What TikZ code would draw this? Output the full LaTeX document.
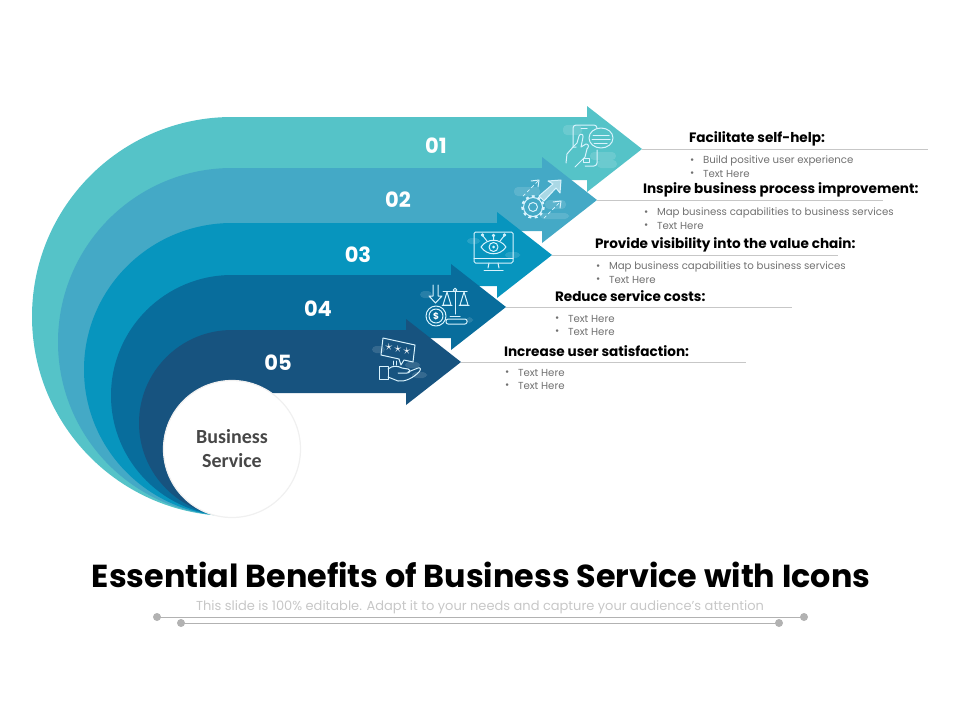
\documentclass[tikz,border=0pt]{standalone}
\usepackage{fontspec}
\setmainfont{Poppins}
\newfontfamily\labelfont{Carlito}
\definecolor{teal1}{HTML}{55C3C8}
\definecolor{teal2}{HTML}{44A9C6}
\definecolor{teal3}{HTML}{0795BE}
\definecolor{teal4}{HTML}{086D9C}
\definecolor{teal5}{HTML}{17537F}
\definecolor{bodygray}{HTML}{707070}
\begin{document}
\begin{tikzpicture}[
  x = 1pt, y = -1pt,
  every node/.style = {inner sep = 0pt, outer sep = 0pt},
  leader/.style = {draw = black!22, line width = 0.7pt},
  heading/.style = {anchor = west, font = \fontsize{13.6}{15}\selectfont\bfseries, text = black},
  bullet/.style = {anchor = west, font = \fontsize{10.2}{11}\selectfont, text = bodygray},
  number/.style = {font = \fontsize{21}{22}\selectfont\bfseries, text = white},
  icon/.style = {draw = white!85!cyan, line width = 1pt, line join = round, line cap = round},
  blob/.style = {fill = white, fill opacity = 0.13, rounded corners = 4pt},
  ]
  \useasboundingbox (0,0) rectangle (960,720);

  % arrows, back to front
  \foreach \n/\col/\tipx/\tipy/\rx in {1/teal1/642/149/200, 2/teal2/597/200/174,
                                       3/teal3/552/255/148, 4/teal4/506/307/121,
                                       5/teal5/461/362/93} {
    \pgfmathsetmacro{\top}{\tipy-32}
    \pgfmathsetmacro{\low}{\tipy+31}
    \pgfmathsetmacro{\ry}{(516-\top)/2}
    \pgfmathsetmacro{\back}{\tipx-55}
    \fill [\col] (232,516) arc [start angle = 90, end angle = 270, x radius = \rx, y radius = \ry]
      -- (\back,\top) -- (\back,\tipy-43) -- (\tipx,\tipy) -- (\back,\tipy+43) -- (\back,\low)
      -- (232,\low) -- cycle;
    \coordinate (tip\n) at (\tipx,\tipy);
  }

  \node [circle, minimum size = 137pt, fill = white, draw = black!6, line width = 1.2pt] (core) at (232,449) {};
  \node [font = \labelfont\fontsize{20}{24}\selectfont\bfseries, text = black!72, align = center] (corelabel) at (232,449) {Business\\Service};

  \node [number] (num1) at (436,146) {01};
  \node [number] (num2) at (398,200) {02};
  \node [number] (num3) at (358,255) {03};
  \node [number] (num4) at (318,309) {04};
  \node [number] (num5) at (278,363) {05};

  % leaders and texts
  \coordinate (end1) at (928,149);
  \coordinate (end2) at (883,200);
  \coordinate (end3) at (838,255);
  \coordinate (end4) at (792,307);
  \coordinate (end5) at (746,362);
  \foreach \n in {1,...,5} \draw [leader] (tip\n) -- (end\n);

  \node [heading] (head1) at (689,139) {Facilitate self-help:};
  \node [heading] (head2) at (643,190) {Inspire business process improvement:};
  \node [heading] (head3) at (595,245) {Provide visibility into the value chain:};
  \node [heading] (head4) at (555,296) {Reduce service costs:};
  \node [heading] (head5) at (504,351) {Increase user satisfaction:};

  \foreach \n/\dotx/\textx/\ya/\yb/\first in {
      1/690/703/161/174/Build positive user experience,
      2/644/657/213/226/Map business capabilities to business services,
      3/596/609/267/280/Map business capabilities to business services,
      4/555/568/319/332/Text Here,
      5/505/518/373/386/Text Here} {
    \node [bullet] (dota\n) at (\dotx,\ya) {•};
    \node [bullet] (txta\n) at (\textx,\ya) {\first};
    \node [bullet] (dotb\n) at (\dotx,\yb) {•};
    \node [bullet] (txtb\n) at (\textx,\yb) {Text Here};
  }

  % icon 1: phone, hand, chat
  \fill [blob] (563,125) rectangle (582,135);
  \fill [blob] (590,152) rectangle (616,160);
  \fill [blob] (597,160) rectangle (617,168);
  \draw [icon] (576,147) -- (573,147) -- (573,128) arc [start angle = 180, end angle = 270, radius = 3] -- (594,125) arc [start angle = 270, end angle = 360, radius = 3] -- (597,129);
  \draw [icon] (597,150) -- (597,163) arc [start angle = 0, end angle = 90, radius = 3] -- (585,166);
  \draw [icon] (581,128) -- (587,128);
  \draw [icon, fill = teal1] (601,138) ellipse [x radius = 12, y radius = 10];
  \draw [icon] (593,135) -- (609,135) (592,139) -- (610,139) (594,143) -- (607,143);
  \draw [icon] (566,163) -- (567,154) -- (573,147) -- (577,143) -- (579,136) .. controls (580,133) and (584,134) .. (583,137) -- (581,147) -- (586,144) .. controls (589,144) and (589,147) .. (587,149) -- (585,157) -- (575,167);
  \draw [icon] (583,158) rectangle (589,162);

  % icon 2: gear and arrows
  \fill [blob] (514,187) rectangle (540,196);
  \fill [blob] (545,200) rectangle (566,209);
  \fill [blob] (540,213) rectangle (569,219);
  \draw [icon, line width = 2.6pt, dash pattern = on 2.8pt off 3.2pt, line cap = butt] (533,207) circle [radius = 10.5];
  \draw [icon] (533,207) circle [radius = 9.5];
  \draw [icon] (533,207) circle [radius = 4.5];
  \draw [icon, fill = white, fill opacity = 0.55] (539,196) -- (553,184) -- (548,181) -- (561,180) -- (560,193) -- (556,188) -- (544,201) -- cycle;
  \draw [icon, dashed, line width = 0.7pt] (523,196) -- (538,181);
  \draw [icon] (531,181) -- (539,180) -- (538,187);
  \draw [icon, dashed, line width = 0.7pt] (544,218) -- (560,202);
  \draw [icon] (553,202) -- (561,201) -- (560,208);

  % icon 3: eye on a monitor
  \fill [blob] (467,238) rectangle (480,244);
  \fill [blob] (505,252) rectangle (520,258);
  \draw [icon, rounded corners = 1.5pt] (474,232) rectangle (513,263);
  \draw [icon] (474,258) -- (513,258);
  \draw [icon] (489,263) -- (488,268) (498,263) -- (499,268);
  \draw [icon] (484,270) -- (503,270);
  \draw [icon] (481,247) .. controls (487,238) and (500,238) .. (506,247) .. controls (500,256) and (487,256) .. (481,247) -- cycle;
  \draw [icon] (493.5,247) circle [radius = 4.5];
  \fill [white!85!cyan] (493.5,247) circle [radius = 1.5];
  \draw [icon] (493.5,240) -- (493.5,237) (487,241) -- (483,236) (500,241) -- (504,236);
  \draw [icon] (493.5,235.5) circle [radius = 1.2] (482.5,235) circle [radius = 1.2] (504.5,235) circle [radius = 1.2];

  % icon 4: scales and coins
  \fill [blob] (420,291) rectangle (432,298);
  \fill [blob] (466,317) rectangle (473,323);
  \draw [icon] (433,285) -- (433,296) -- (429,296) -- (435.5,303) -- (442,296) -- (438,296) -- (438,285);
  \draw [icon] (443,291) -- (467,291);
  \draw [icon] (455,291) -- (455,314);
  \draw [icon] (455,290) circle [radius = 1.8];
  \draw [icon] (447,292) -- (443,305) -- (451,305) -- cycle;
  \draw [icon] (464,292) -- (460,305) -- (468,305) -- cycle;
  \draw [icon] (442,305) -- (452,305) (459,305) -- (469,305);
  \draw [icon] (450,316) -- (460,316);
  \draw [icon, rounded corners = 2pt] (446,319) rectangle (467,324);
  \draw [icon, fill = teal4] (436,316) circle [radius = 10];
  \draw [icon] (436,316) circle [radius = 7];
  \node [font = \fontsize{9}{9}\selectfont\bfseries, text = white] (coin) at (436,316) {\$};

  % icon 5: rating board and open hand
  \fill [blob] (372,346) rectangle (385,353);
  \fill [blob] (405,362) rectangle (420,368);
  \fill [blob] (412,372) rectangle (427,378);
  \draw [icon] (383,338) -- (415,345) -- (413,362) -- (404,360) -- (401,365) -- (399,359) -- (381,355) -- cycle;
  \foreach \s/\sx/\sy in {1/389/347, 2/398/349, 3/407/351}
    \node [font = \fontsize{15}{15}\selectfont, text = white] (star\s) at (\sx,\sy) {$\star$};
  \draw [icon] (396,361) -- (396,365) (393,361) -- (393,365);
  \draw [icon] (379,366) rectangle (388,379);
  \draw [icon] (388,369) .. controls (393,365) and (398,366) .. (402,368) -- (408,369) .. controls (411,370) and (410,373) .. (407,373) -- (398,373);
  \draw [icon] (408,372) -- (418,368) .. controls (421,367) and (421,370) .. (419,372) .. controls (413,378) and (405,382) .. (398,381) -- (388,377);

  % title block
  \node [font = \fontsize{31.8}{36}\selectfont\bfseries, text = black] (title) at (481,575) {Essential Benefits of Business Service with Icons};
  \node [font = \fontsize{13}{14}\selectfont, text = black!22] (subtitle) at (480,607) {This slide is 100\% editable. Adapt it to your needs and capture your audience's attention};
  \coordinate (ruleAl) at (157,617);
  \coordinate (ruleAr) at (804,617);
  \coordinate (ruleBl) at (181,623);
  \coordinate (ruleBr) at (779,623);
  \draw [black!30, line width = 0.9pt] (ruleAl) -- (ruleAr);
  \draw [black!30, line width = 0.9pt] (ruleBl) -- (ruleBr);
  \foreach \p in {ruleAl,ruleAr,ruleBl,ruleBr} \fill [black!30] (\p) circle [radius = 4];
\end{tikzpicture}
\end{document}
